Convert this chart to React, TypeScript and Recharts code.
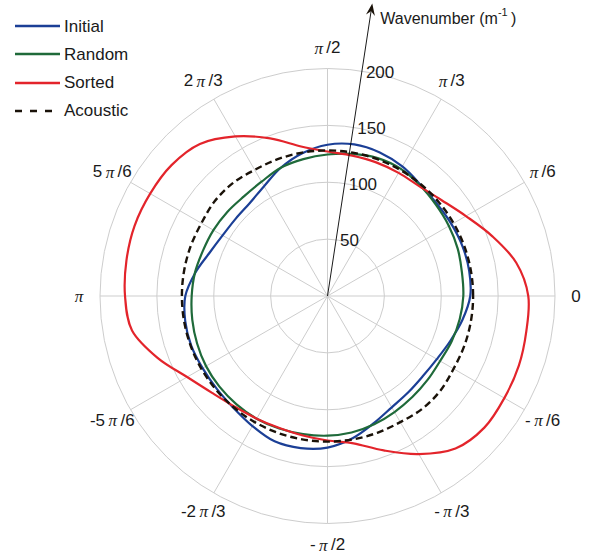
import React from 'react';
import { RadarChart, Radar, PolarGrid, PolarAngleAxis, PolarRadiusAxis, Legend } from 'recharts';

const FONT = '"Liberation Sans", Arial, sans-serif';

// propagation direction, degrees counter-clockwise from +x
const angles = [
  0, 10, 20, 30, 40, 50, 60, 70, 80, 90, 100, 110,
  120, 130, 140, 150, 160, 170, 180, 190, 200, 210, 220, 230,
  240, 250, 260, 270, 280, 290, 300, 310, 320, 330, 340, 350,
];

// wavenumber (1/m) at each direction
const initial = [
  125.5, 126.5, 126.5, 126, 125.8, 127.5, 131.5, 134.3, 135.3, 133, 127.5, 120,
  111.5, 106.5, 105.5, 106.5, 110.5, 118, 125, 127, 127.5, 126.8, 127, 128.5,
  132, 136, 135.8, 133.3, 127, 119, 113, 110.5, 109.5, 111, 115, 120.5,
];
const random = [
  119.4, 120, 121.8, 123.2, 124.5, 126.7, 129, 129, 126.8, 124.4, 122.2, 120,
  116, 114.3, 115, 115.8, 116.5, 118.3, 119.4, 120.7, 122, 123.3, 124, 124.4,
  124.6, 124, 123.3, 122.8, 121.9, 120, 117.8, 116, 114.8, 114.3, 116.2, 118,
];
const sorted = [
  176.5, 168.5, 154, 140.5, 131, 125.8, 125, 125, 125.3, 127, 133.5, 147.5,
  162, 174.5, 179, 180, 180.5, 179.5, 178, 174.5, 159, 142.5, 132.5, 127,
  124.5, 123.5, 124.5, 127, 131.5, 144.5, 160.5, 175, 180, 179.5, 179, 177.5,
];
const acoustic = [
  128, 128, 128, 128, 128, 128, 128, 128, 128, 128, 128, 128,
  128, 129.5, 129.5, 128, 128, 128, 128, 128, 128, 128, 128, 128,
  128, 128, 128, 128, 128, 128, 128, 129.5, 129.5, 128, 128, 128,
];

const radiusTicks = [0, 50, 100, 150, 200];
const angleTicks = [0, 30, 60, 90, 120, 150, 180, 210, 240, 270, 300, 330];
// [text before pi, text after pi]; a single entry means no pi
const angleTickLabels: Record<number, string[]> = {
  0: ['0'],
  30: ['', '/6'],
  60: ['', '/3'],
  90: ['', '/2'],
  120: ['2', '/3'],
  150: ['5', '/6'],
  180: ['', ''],
  210: ['-5', '/6'],
  240: ['-2', '/3'],
  270: ['-', '/2'],
  300: ['-', '/3'],
  330: ['-', '/6'],
};

const series = [
  { key: 'initial', name: 'Initial', color: '#1b3f96', dash: undefined as string | undefined },
  { key: 'random', name: 'Random', color: '#1f6a3a', dash: undefined },
  { key: 'sorted', name: 'Sorted', color: '#e3242b', dash: undefined },
  { key: 'acoustic', name: 'Acoustic', color: '#1a1209', dash: '7 4' },
];

const data = angles.map((angle, i) => ({
  angle,
  initial: initial[i],
  random: random[i],
  sorted: sorted[i],
  acoustic: acoustic[i],
}));

const AXIS_ANGLE = 81.3;
const ARROW_LENGTH = 296;

// closed Catmull-Rom curve through the radar points
function smoothClosed(pts: { x: number; y: number }[]) {
  const n = pts.length;
  if (!n) return '';
  let d = `M${pts[0].x},${pts[0].y}`;
  for (let i = 0; i < n; i++) {
    const p0 = pts[(i - 1 + n) % n];
    const p1 = pts[i];
    const p2 = pts[(i + 1) % n];
    const p3 = pts[(i + 2) % n];
    const c1x = p1.x + (p2.x - p0.x) / 6;
    const c1y = p1.y + (p2.y - p0.y) / 6;
    const c2x = p2.x - (p3.x - p1.x) / 6;
    const c2y = p2.y - (p3.y - p1.y) / 6;
    d += ` C${c1x},${c1y} ${c2x},${c2y} ${p2.x},${p2.y}`;
  }
  return d + 'Z';
}

const AngleTick = (props: any) => {
  const { x, y, payload } = props;
  const parts = angleTickLabels[payload.value] ?? [String(payload.value)];
  return (
    <text x={x} y={y} textAnchor="middle" dominantBaseline="central" fontFamily={FONT} fontSize={17} fill="#1a1a1a">
      {parts.length === 1 ? (
        parts[0]
      ) : (
        <>
          {parts[0] ? parts[0] + '\u2009' : ''}
          <tspan fontFamily='"Liberation Serif", serif' fontStyle="italic">π</tspan>
          {parts[1] ? '\u2009' + parts[1] : ''}
        </>
      )}
    </text>
  );
};

const RadiusTick = (props: any) => {
  const { x, y, payload } = props;
  if (payload.value === 0) {
    // the radial axis: an arrow from the pole out past the last ring
    const rad = (AXIS_ANGLE * Math.PI) / 180;
    const ux = Math.cos(rad);
    const uy = -Math.sin(rad);
    const nx = -uy;
    const ny = ux;
    const tx = x + ARROW_LENGTH * ux;
    const ty = y + ARROW_LENGTH * uy;
    const len = 12;
    const half = 4.5;
    const notch = 8;
    const head = [
      [tx, ty],
      [tx - ux * len + nx * half, ty - uy * len + ny * half],
      [tx - ux * notch, ty - uy * notch],
      [tx - ux * len - nx * half, ty - uy * len - ny * half],
    ];
    return (
      <g>
        <line x1={x} y1={y} x2={tx - ux * notch} y2={ty - uy * notch} stroke="#000" strokeWidth={0.9} />
        <polygon points={head.map((p) => p.join(',')).join(' ')} fill="#1a1209" />
        <text x={tx + 8} y={ty + 20.5} fontFamily={FONT} fontSize={16} fill="#1a1a1a">
          Wavenumber (m
          <tspan fontSize={11} dy={-8}>-1</tspan>
          <tspan dy={8}>{'\u2009)'}</tspan>
        </text>
      </g>
    );
  }
  return (
    <text x={x + 4} y={y + 1} dominantBaseline="central" fontFamily={FONT} fontSize={17} fill="#1a1a1a">
      {payload.value}
    </text>
  );
};

// legend rows in series order
const LegendBox = () => (
  <div style={{ fontFamily: FONT, fontSize: 17, color: '#1a1a1a' }}>
    {series.map((s) => (
      <div key={s.key} style={{ display: 'flex', alignItems: 'center', height: 28.2 }}>
        <svg width={49} height={10} style={{ display: 'block' }}>
          <line
            x1={0}
            x2={45}
            y1={5}
            y2={5}
            stroke={s.color}
            strokeWidth={2.5}
            strokeDasharray={s.dash ? '7 8' : undefined}
          />
        </svg>
        <span style={{ lineHeight: 1 }}>{s.name}</span>
      </div>
    ))}
  </div>
);

export default function App() {
  return (
    <div style={{ position: 'absolute', left: 0, top: 0, background: '#fff' }}>
      <RadarChart
        width={594}
        height={556}
        data={data}
        cx={327.5}
        cy={296}
        innerRadius={0}
        outerRadius={227.5}
        startAngle={0}
        endAngle={360}
        margin={{ top: 0, right: 0, bottom: 0, left: 0 }}
      >
        <PolarGrid gridType="circle" stroke="#cdcdcd" strokeWidth={1} />
        <PolarAngleAxis
          dataKey="angle"
          type="number"
          domain={[0, 360]}
          ticks={angleTicks}
          tick={AngleTick}
          tickLine={false}
          axisLine={false}
          tickSize={21}
        />
        {series.map((s) => (
          <Radar
            key={s.key}
            name={s.name}
            dataKey={s.key}
            stroke={s.color}
            fill="none"
            dot={false}
            isAnimationActive={false}
            shape={(p: any) => (
              <path
                d={smoothClosed(p.points ?? [])}
                fill="none"
                stroke={s.color}
                strokeWidth={s.dash ? 2.4 : 2.2}
                strokeDasharray={s.dash}
              />
            )}
          />
        ))}
        <PolarRadiusAxis
          angle={AXIS_ANGLE}
          type="number"
          domain={[0, 200]}
          ticks={radiusTicks}
          tick={RadiusTick}
          axisLine={false}
          tickLine={false}
        />
        <Legend content={LegendBox} wrapperStyle={{ left: 15, top: 12.2, width: 160 }} />
      </RadarChart>
    </div>
  );
}
